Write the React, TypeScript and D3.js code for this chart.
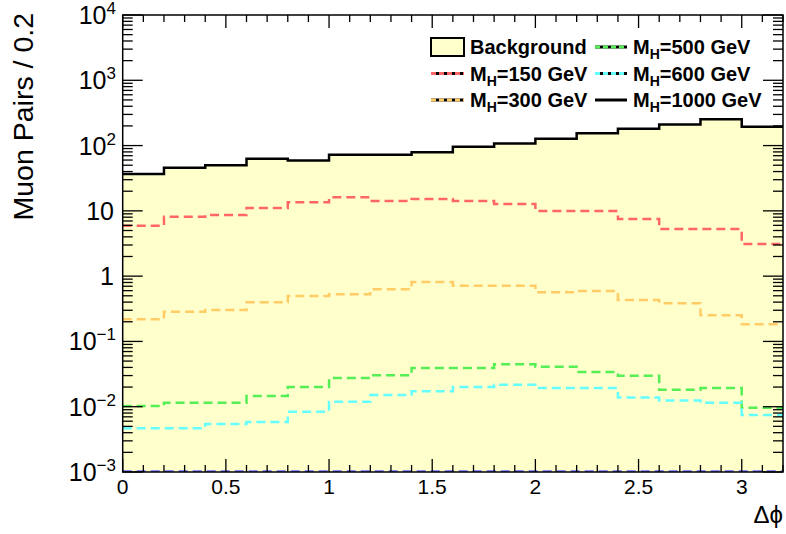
import React from "react";
import * as d3 from "d3";

// ---- data ----
const binEdges = [0, 0.2, 0.4, 0.6, 0.8, 1.0, 1.2, 1.4, 1.6, 1.8, 2.0, 2.2, 2.4, 2.6, 2.8, 3.0, 3.2];
const backgroundCounts = [36.6, 45.7, 49.8, 62.8, 59.3, 72.3, 72.3, 78.7, 95.9, 108, 127, 154, 181, 211, 252, 194];
const mh1000 = [36.6, 45.7, 49.8, 62.8, 59.3, 72.3, 72.3, 78.7, 95.9, 108, 127, 154, 181, 211, 252, 194];
const mh150 = [5.92, 8.12, 8.62, 11.1, 13.5, 16.1, 14.1, 15.2, 14.1, 12.7, 9.93, 9.93, 7.49, 5.26, 5.26, 3.1];
const mh300 = [0.218, 0.285, 0.303, 0.397, 0.496, 0.526, 0.628, 0.812, 0.713, 0.713, 0.565, 0.591, 0.431, 0.383, 0.251, 0.183];
const mh500 = [0.0103, 0.0115, 0.0115, 0.0146, 0.02, 0.0275, 0.0303, 0.0391, 0.0391, 0.0446, 0.041, 0.034, 0.0298, 0.0182, 0.0193, 0.00966];
const mh600 = [0.00467, 0.00467, 0.00543, 0.00583, 0.00838, 0.0119, 0.0151, 0.0172, 0.02, 0.0217, 0.0193, 0.0193, 0.0139, 0.0125, 0.0115, 0.00746];
const underflowSeries = [0, 0, 0, 0, 0, 0, 0, 0, 0, 0, 0, 0, 0, 0, 0, 0];

const xTickValues = [0, 0.5, 1, 1.5, 2, 2.5, 3];
const xTickLabels = ["0", "0.5", "1", "1.5", "2", "2.5", "3"];
const yTickExps = [-3, -2, -1, 0, 1, 2, 3, 4];

const W = 786;
const H = 534;
const L = 122.7;
const R = 783;
const T = 15;
const B = 472;

const FONT = "'Liberation Sans', Arial, Helvetica, sans-serif";

const x = d3.scaleLinear().domain([0, 3.2]).range([L, R]);
const y = d3.scaleLog().domain([1e-3, 1e4]).range([B, T]).clamp(true);

function pts(vals: number[]) {
  const p: [number, number][] = vals.map((v, i) => [binEdges[i], v]);
  p.push([binEdges[binEdges.length - 1], vals[vals.length - 1]]);
  return p;
}

const stepLine = d3
  .line<[number, number]>()
  .x((d) => x(d[0]))
  .y((d) => (d[1] <= 1e-3 ? B - 0.5 : y(d[1])))
  .curve(d3.curveStepAfter);

const stepArea = d3
  .area<[number, number]>()
  .x((d) => x(d[0]))
  .y0(B)
  .y1((d) => y(d[1]))
  .curve(d3.curveStepAfter);

const series = [
  { vals: mh150, color: "#ff6666", dash: "9,5", name: "150" },
  { vals: mh300, color: "#ffcc66", dash: "9,5", name: "300" },
  { vals: mh500, color: "#55ee55", dash: "9,5", name: "500" },
  { vals: mh600, color: "#66ffff", dash: "9,5", name: "600" },
];

export default function App() {
  const xMinor = d3.range(0, 32.01, 1).map((v) => v / 10);
  const yMinor: number[] = [];
  for (let e = -3; e < 4; e++) for (let k = 2; k <= 9; k++) yMinor.push(k * Math.pow(10, e));

  const legendRows = [47, 73.5, 100];
  const c1x0 = 431, c1x1 = 464, c1t = 470;
  const c2x0 = 595, c2x1 = 627, c2t = 633;
  const LF = 20;

  const MH = (mass: string, tx: number, ty: number) => (
    <text x={tx} y={ty} dy="0.36em" fontFamily={FONT} fontWeight="bold" fontSize={LF} fill="#000">
      M<tspan fontSize={14} dy="5">H</tspan>
      <tspan dy="-5">={mass} GeV</tspan>
    </text>
  );

  const legendLine = (x0: number, x1: number, yy: number, color: string) => (
    <g>
      <line x1={x0} x2={x1} y1={yy} y2={yy} stroke="#000" strokeWidth={3} />
      <line x1={x0} x2={x1} y1={yy} y2={yy} stroke={color} strokeWidth={3} strokeDasharray="5,3" />
    </g>
  );

  return (
    <svg width={W} height={H} style={{ position: "absolute", left: 0, top: 0, display: "block" }}>
      <rect x={0} y={0} width={W} height={H} fill="#fff" />
      <defs>
        <clipPath id="plotclip">
          <rect x={L} y={T} width={R - L} height={B - T} />
        </clipPath>
      </defs>
      <g clipPath="url(#plotclip)">
        <path d={stepArea(pts(backgroundCounts)) || ""} fill="#ffffcc" stroke="none" />
        {series.map((s) => (
          <path key={s.name} d={stepLine(pts(s.vals)) || ""} fill="none" stroke={s.color} strokeWidth={2.5} strokeDasharray={s.dash} />
        ))}
        <path d={stepLine(pts(underflowSeries)) || ""} fill="none" stroke="#6666ff" strokeWidth={2.5} strokeDasharray="9,5" />
        <path d={stepLine(pts(mh1000)) || ""} fill="none" stroke="#000" strokeWidth={2.5} />
      </g>

      {xMinor.map((v, i) => {
        const major = Math.abs(v * 2 - Math.round(v * 2)) < 1e-6;
        const len = major ? 13 : 7;
        return (
          <g key={"xt" + i}>
            <line x1={x(v)} x2={x(v)} y1={B} y2={B - len} stroke="#000" strokeWidth={1.3} />
            <line x1={x(v)} x2={x(v)} y1={T} y2={T + len} stroke="#000" strokeWidth={1.3} />
          </g>
        );
      })}
      {yTickExps.map((e) => {
        const yy = y(Math.pow(10, e));
        return (
          <g key={"ym" + e}>
            <line x1={L} x2={L + 20} y1={yy} y2={yy} stroke="#000" strokeWidth={1.3} />
            <line x1={R} x2={R - 20} y1={yy} y2={yy} stroke="#000" strokeWidth={1.3} />
          </g>
        );
      })}
      {yMinor.map((v, i) => {
        const yy = y(v);
        return (
          <g key={"yn" + i}>
            <line x1={L} x2={L + 10} y1={yy} y2={yy} stroke="#000" strokeWidth={1.3} />
            <line x1={R} x2={R - 10} y1={yy} y2={yy} stroke="#000" strokeWidth={1.3} />
          </g>
        );
      })}

      <rect x={L} y={T} width={R - L} height={B - T} fill="none" stroke="#000" strokeWidth={1.5} />

      {xTickValues.map((v, i) => (
        <text key={"xl" + i} x={x(v)} y={494} textAnchor="middle" fontFamily={FONT} fontSize={21} fill="#000">
          {xTickLabels[i]}
        </text>
      ))}
      {yTickExps.map((e) => {
        const yy = y(Math.pow(10, e));
        if (e === 0 || e === 1) {
          return (
            <text key={"yl" + e} x={114} y={yy} dy="0.36em" textAnchor="end" fontFamily={FONT} fontSize={25} fill="#000">
              {e === 0 ? "1" : "10"}
            </text>
          );
        }
        return (
          <text key={"yl" + e} x={116} y={yy} dy="0.36em" textAnchor="end" fontFamily={FONT} fontSize={25} fill="#000">
            10<tspan fontSize={17} dy="-10">{e < 0 ? "\u2212" + Math.abs(e) : String(e)}</tspan>
          </text>
        );
      })}

      <text x={783} y={523} textAnchor="end" fontFamily={FONT} fontSize={24} fill="#000">
        Δϕ
      </text>
      <text
        transform="translate(33,13) rotate(-90)"
        textAnchor="end"
        fontFamily={FONT}
        fontSize={28.5}
        fill="#000"
      >
        Muon Pairs / 0.2
      </text>

      <rect x={c1x0} y={legendRows[0] - 9} width={c1x1 - c1x0} height={18} fill="#ffffcc" stroke="#000" strokeWidth={2} />
      <text x={c1t} y={legendRows[0]} dy="0.36em" fontFamily={FONT} fontWeight="bold" fontSize={LF} fill="#000">
        Background
      </text>
      {legendLine(c1x0, c1x1, legendRows[1], "#ff6666")}
      {MH("150", c1t, legendRows[1])}
      {legendLine(c1x0, c1x1, legendRows[2], "#ffcc66")}
      {MH("300", c1t, legendRows[2])}
      {legendLine(c2x0, c2x1, legendRows[0], "#55ee55")}
      {MH("500", c2t, legendRows[0])}
      {legendLine(c2x0, c2x1, legendRows[1], "#66ffff")}
      {MH("600", c2t, legendRows[1])}
      <line x1={c2x0} x2={c2x1} y1={legendRows[2]} y2={legendRows[2]} stroke="#000" strokeWidth={3} />
      {MH("1000", c2t, legendRows[2])}
    </svg>
  );
}
